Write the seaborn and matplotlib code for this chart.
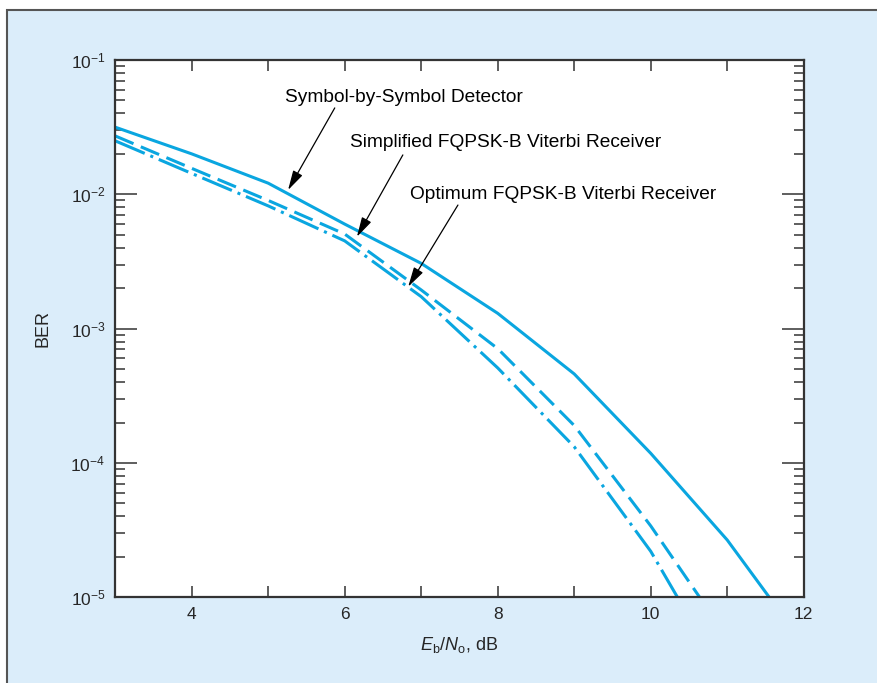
import numpy as np
import pandas as pd
import matplotlib
matplotlib.use("Agg")
import matplotlib.pyplot as plt
import matplotlib.ticker as mticker
from matplotlib.patches import Rectangle
import seaborn as sns

# Curvas de BER (Eb/No em dB)
ebno_sym = [3, 4, 5, 6, 7, 8, 9, 10, 11, 11.55]
ber_sym = [3.16e-2, 2.0e-2, 1.21e-2, 6.0e-3, 3.06e-3, 1.30e-3, 4.6e-4, 1.18e-4, 2.67e-5, 1.0e-5]

ebno_simp = [3, 4, 5, 6, 7, 8, 9, 10, 10.64]
ber_simp = [2.72e-2, 1.56e-2, 9.0e-3, 5.06e-3, 1.94e-3, 7.1e-4, 1.9e-4, 3.4e-5, 1.0e-5]

ebno_opt = [3, 4, 5, 6, 7, 8, 9, 10, 10.35]
ber_opt = [2.5e-2, 1.43e-2, 8.2e-3, 4.5e-3, 1.73e-3, 5.1e-4, 1.32e-4, 2.2e-5, 1.0e-5]

nomes = ["Symbol-by-Symbol Detector",
         "Simplified FQPSK-B Viterbi Receiver",
         "Optimum FQPSK-B Viterbi Receiver"]

xticks = [4, 5, 6, 7, 8, 9, 10, 11, 12]
xticklabels = ["4", "", "6", "", "8", "", "10", "", "12"]

# (texto x, texto y, seta cauda, seta ponta) em coordenadas de dados
anotacoes = [
    (5.22, 10**-1.276, (5.87, 10**-1.357), (5.26, 10**-1.968)),
    (6.07, 10**-1.618, (6.76, 10**-1.707), (6.16, 10**-2.316)),
    (6.85, 10**-2.005, (7.48, 10**-2.08), (6.83, 10**-2.688)),
]

df = pd.concat([
    pd.DataFrame({"ebno": ebno_sym, "ber": ber_sym, "curva": nomes[0]}),
    pd.DataFrame({"ebno": ebno_simp, "ber": ber_simp, "curva": nomes[1]}),
    pd.DataFrame({"ebno": ebno_opt, "ber": ber_opt, "curva": nomes[2]}),
])

sns.set_style("ticks")
plt.rcParams["font.family"] = ["Liberation Sans", "DejaVu Sans"]
plt.rcParams["mathtext.fontset"] = "custom"
plt.rcParams["mathtext.rm"] = "Liberation Sans"
plt.rcParams["mathtext.it"] = "Liberation Sans:italic"

azul = "#0aa6e0"
fundo = "#dbedfa"

fig = plt.figure(figsize=(8.78, 6.83), dpi=100)
fig.patch.set_facecolor("white")
# Moldura azul clara
moldura = Rectangle((7 / 878, -0.1), 1.2, 1 - 10 / 683 + 0.1,
                    transform=fig.transFigure, facecolor=fundo,
                    edgecolor="#555555", linewidth=1.5, zorder=-5)
fig.add_artist(moldura)

ax = fig.add_axes([0.1312, 0.1255, 0.7842, 0.7867])
ax.set_zorder(2)
ax.set_facecolor("white")

sns.lineplot(data=df, x="ebno", y="ber", style="curva", ax=ax, color=azul,
             linewidth=2.2, legend=False, sort=False, estimator=None,
             dashes={nomes[0]: "", nomes[1]: (6.5, 2.6), nomes[2]: (10.5, 2.0, 1.0, 2.0)})

ax.set_yscale("log")
ax.set_xlim(3, 12)
ax.set_ylim(1e-5, 1e-1)

ax.set_xticks(xticks)
ax.set_xticklabels(xticklabels)
ax.yaxis.set_major_locator(mticker.LogLocator(base=10, numticks=10))
ax.yaxis.set_minor_locator(mticker.LogLocator(base=10, subs=np.arange(2, 10), numticks=10))
ax.yaxis.set_minor_formatter(mticker.NullFormatter())

ax.tick_params(axis="x", which="major", direction="in", length=8, width=1.1,
               top=True, labelsize=12.5, pad=7, color="#333333")
ax.tick_params(axis="y", which="major", direction="in", length=16, width=1.1,
               right=True, labelsize=12.5, pad=7, color="#333333")
ax.tick_params(axis="y", which="minor", direction="in", length=7, width=1.1,
               right=True, color="#333333")
for s in ax.spines.values():
    s.set_linewidth(1.6)
    s.set_color("#333333")

ax.set_xlabel(r"$E_\mathrm{b}/N_\mathrm{o}$, dB", fontsize=13)
ax.xaxis.set_label_coords(0.5, -0.07)
ax.set_ylabel("BER", fontsize=13)
ax.yaxis.set_label_coords(-0.092, 0.5)

for nome, (tx, ty, cauda, ponta) in zip(nomes, anotacoes):
    ax.text(tx, ty, nome, fontsize=13.8, ha="left", va="center", color="black")
    ax.annotate("", xy=ponta, xytext=cauda,
                arrowprops=dict(arrowstyle="-|>,head_length=0.6,head_width=0.16",
                                color="black", lw=0.9, mutation_scale=20,
                                shrinkA=0, shrinkB=0))

fig.savefig("out.png", dpi=100, facecolor=fig.get_facecolor())
